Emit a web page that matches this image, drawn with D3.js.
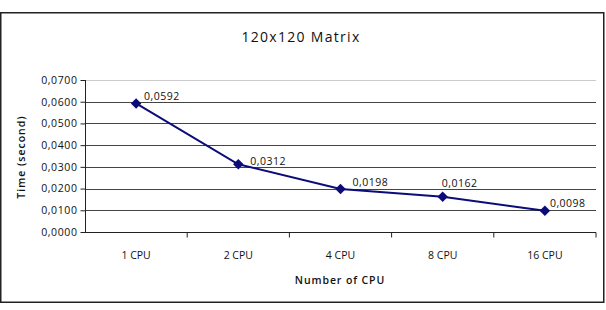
<!DOCTYPE html>
<html>
<head>
<meta charset="utf-8">
<script src="https://cdn.jsdelivr.net/npm/d3@7"></script>
<style>
  body { margin: 0; background: #fff; }
  svg text { font-family: "Open Sans", sans-serif; fill: #111; }
</style>
</head>
<body>
<svg id="chart" width="606" height="310"></svg>
<script>
// data
var categories = ["1 CPU", "2 CPU", "4 CPU", "8 CPU", "16 CPU"];
var times = [0.0592, 0.0312, 0.0198, 0.0162, 0.0098];
var yTicks = [0, 0.01, 0.02, 0.03, 0.04, 0.05, 0.06, 0.07];

var svg = d3.select("#chart");
var m = {left: 85, right: 596, top: 80, bottom: 232};

var fmt = function(v) { return d3.format(".4f")(v).replace(".", ","); };

// outer frame
svg.append("rect")
  .attr("x", 0.75).attr("y", 12.75)
  .attr("width", 603).attr("height", 289.5)
  .attr("fill", "none").attr("stroke", "#222").attr("stroke-width", 1.5);

var x = d3.scaleBand().domain(categories).range([m.left, m.right]);
var y = d3.scaleLinear().domain([0, 0.07]).range([m.bottom, m.top]);

// gridlines
svg.append("g").selectAll("line")
  .data(yTicks.filter(function(d) { return d > 0; }))
  .enter().append("line")
    .attr("x1", m.left).attr("x2", m.right)
    .attr("y1", function(d) { return Math.round(y(d)) + 0.5; })
    .attr("y2", function(d) { return Math.round(y(d)) + 0.5; })
    .attr("stroke", function(d) { return d >= 0.07 ? "#ccc" : "#444"; })
    .attr("stroke-width", 1.2);

// y axis
var yAxis = d3.axisLeft(y).tickValues(yTicks).tickFormat(fmt).tickSize(5).tickPadding(3);
var gy = svg.append("g").attr("transform", "translate(" + (m.left + 0.5) + ",0)").call(yAxis);
gy.select(".domain").attr("stroke", "#222").attr("d", "M0," + m.top + "V" + (m.bottom + 0.5));
gy.selectAll(".tick line").attr("stroke", "#222");
gy.selectAll("text").attr("fill", "#111")
  .style("font-size", "10.5px").style("letter-spacing", "0.6px")
  .style("font-family", "'Open Sans', sans-serif");

// x axis: ticks at category boundaries
var gx = svg.append("g").attr("transform", "translate(0," + (m.bottom + 0.5) + ")");
gx.append("line").attr("x1", m.left).attr("x2", m.right).attr("stroke", "#222").attr("stroke-width", 1.2);
gx.selectAll("line.tk")
  .data(categories)
  .enter().append("line").attr("class", "tk")
    .attr("x1", function(d) { return x(d) + x.bandwidth(); })
    .attr("x2", function(d) { return x(d) + x.bandwidth(); })
    .attr("y1", 0).attr("y2", 5)
    .attr("stroke", "#222");
gx.selectAll("text")
  .data(categories)
  .enter().append("text")
    .attr("x", function(d) { return x(d) + x.bandwidth() / 2; })
    .attr("y", 26.5)
    .attr("text-anchor", "middle")
    .style("font-size", "10.5px")
    .text(function(d) { return d; });

// line
var line = d3.line()
  .x(function(d, i) { return x(categories[i]) + x.bandwidth() / 2; })
  .y(function(d) { return y(d); });

svg.append("path")
  .datum(times)
  .attr("d", line)
  .attr("fill", "none")
  .attr("stroke", "#0b0b7a")
  .attr("stroke-width", 2);

// diamond markers
svg.append("g").selectAll("path")
  .data(times)
  .enter().append("path")
    .attr("d", d3.symbol().type(d3.symbolDiamond2).size(70))
    .attr("transform", function(d, i) {
      return "translate(" + (x(categories[i]) + x.bandwidth() / 2) + "," + y(d) + ")";
    })
    .attr("fill", "#0b0b7a");

// data labels (excel nudges them around the markers)
var labelDx = [8, 12, 12, -1, 5];
var labelDy = [-3, 1, -3, -10, -4];
svg.append("g").selectAll("text")
  .data(times)
  .enter().append("text")
    .attr("x", function(d, i) { return x(categories[i]) + x.bandwidth() / 2 + labelDx[i]; })
    .attr("y", function(d, i) { return y(d) + labelDy[i]; })
    .style("font-size", "10.5px").style("letter-spacing", "0.5px")
    .text(fmt);

// titles
svg.append("text")
  .attr("x", 301).attr("y", 42)
  .attr("text-anchor", "middle")
  .style("font-size", "14px").style("letter-spacing", "1.3px")
  .text("120x120 Matrix");

svg.append("text")
  .attr("x", 340).attr("y", 284)
  .attr("text-anchor", "middle")
  .style("font-size", "10.5px").style("font-weight", "600").style("letter-spacing", "0.9px")
  .text("Number of CPU");

svg.append("text")
  .attr("transform", "translate(24.5,157) rotate(-90)")
  .attr("text-anchor", "middle")
  .style("font-size", "10.5px").style("font-weight", "600").style("letter-spacing", "1px")
  .text("Time (second)");
</script>
</body>
</html>
